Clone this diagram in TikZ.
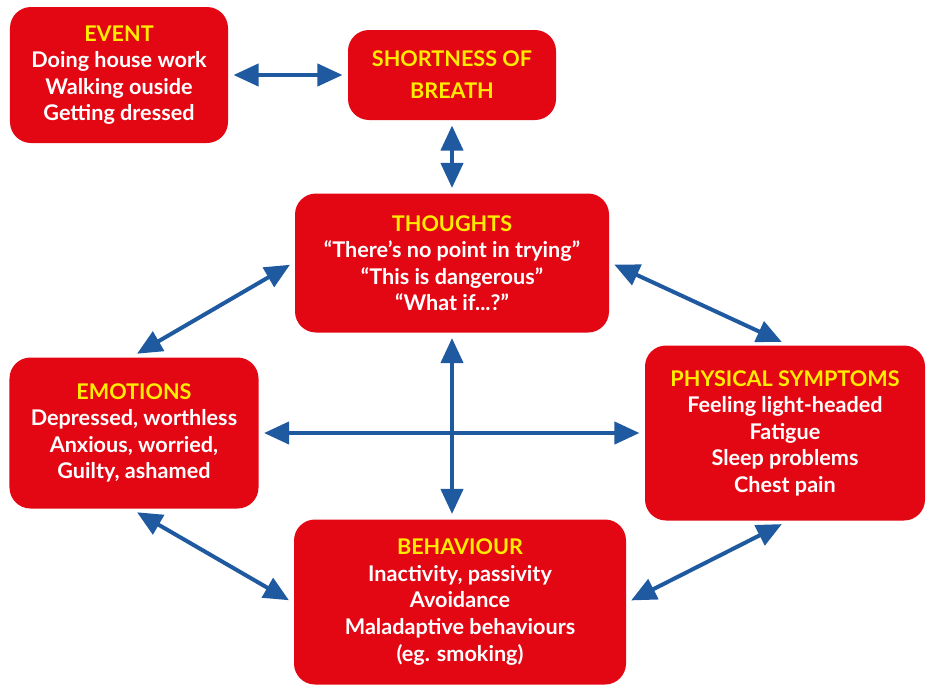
\documentclass[tikz,border=0pt]{standalone}
\usepackage{fontspec}
\setmainfont{Lato}
\usetikzlibrary{positioning,arrows.meta}
\definecolor{boxred}{HTML}{E30613}
\definecolor{headyellow}{HTML}{FFED00}
\definecolor{arrowblue}{HTML}{1F5AA0}
\newcommand{\head}[1]{{\color{headyellow}#1}}

\begin{document}
\begin{tikzpicture}[<->, >={Triangle[length=0.5cm,width=0.44cm]},
on grid, line width=0.08cm,
blk/.style ={rectangle, rounded corners=0.42cm, fill=boxred,
  draw=none, text=white, align=center, font=\bfseries\fontsize{12.3}{15.1}\selectfont,
  inner sep=0pt},
link/.style ={draw=arrowblue, shorten <=2pt, shorten >=2pt}
]
\useasboundingbox (0,0) rectangle (18.6,-13.74);
\node[blk, minimum width=6.28cm, minimum height=2.78cm] (thoughts) at (9.04,-5.26)
  {\head{THOUGHTS}\\``There's no point in trying''\\``This is dangerous''\\``What if...?''};
\node[blk, minimum width=4.16cm, minimum height=1.8cm] (breath) [above=3.76cm of thoughts]
  {\head{SHORTNESS OF}\\[3pt]\head{BREATH}};
\node[blk, minimum width=4.36cm, minimum height=2.72cm] (event) [left=6.66cm of breath]
  {\head{EVENT}\\Doing house work\\Walking ouside\\Getting dressed};
\node[blk, minimum width=4.98cm, minimum height=3.02cm] (emotions) [below left=3.4cm and 6.36cm of thoughts]
  {\head{EMOTIONS}\\Depressed, worthless\\Anxious, worried,\\Guilty, ashamed};
\node[blk, minimum width=5.6cm, minimum height=3.5cm] (physical) [below right=3.4cm and 6.66cm of thoughts]
  {\head{PHYSICAL SYMPTOMS}\\Feeling light-headed\\Fatigue\\Sleep problems\\Chest pain};
\node[blk, minimum width=6.64cm, minimum height=3.3cm] (behaviour) [below=6.78cm of thoughts, xshift=0.16cm]
  {\head{BEHAVIOUR}\\Inactivity, passivity\\Avoidance\\Maladaptive behaviours\\(eg. smoking)};

\draw[link] (event.east) -- (breath.west);
\draw[link] (breath.south) -- (thoughts.north);
\draw[link] (thoughts.west) -- (emotions.north);
\draw[link] (thoughts.east) -- (physical.north);
\draw[link] (emotions.east) -- (physical.west);
\draw[link] (thoughts.south) -- (thoughts.south |- behaviour.north);
\draw[link] (emotions.south) -- (behaviour.west);
\draw[link] (physical.south) -- (behaviour.east);
\end{tikzpicture}
\end{document}
